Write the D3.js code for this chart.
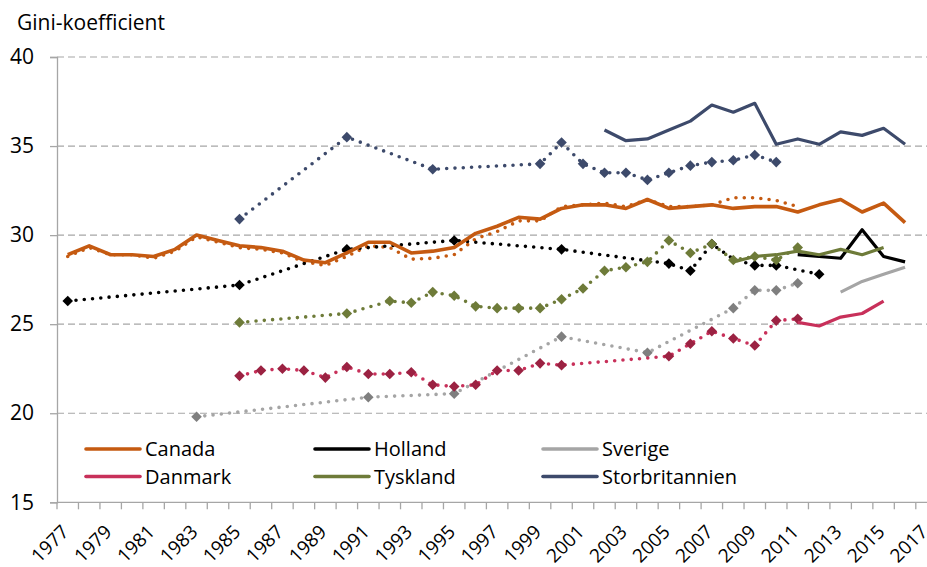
<!DOCTYPE html>
<html>
<head>
<meta charset="utf-8">
<script src="https://cdn.jsdelivr.net/npm/d3@7"></script>
<style>
  html, body { margin: 0; padding: 0; background: #fff; }
  svg { display: block; font-family: "Open Sans", "Noto Sans", sans-serif; }
</style>
</head>
<body>
<svg id="chart" width="927" height="567"></svg>
<script>
// ---- Data ----
const years = [1977,1978,1979,1980,1981,1982,1983,1984,1985,1986,1987,1988,1989,1990,1991,1992,1993,1994,1995,1996,1997,1998,1999,2000,2001,2002,2003,2004,2005,2006,2007,2008,2009,2010,2011,2012,2013,2014,2015,2016,2017];
const yearLabels = [1977,1979,1981,1983,1985,1987,1989,1991,1993,1995,1997,1999,2001,2003,2005,2007,2009,2011,2013,2015,2017];
const yTicks = [15,20,25,30,35,40];

// Canada
const canadaSolidYears = [1977,1978,1979,1980,1981,1982,1983,1984,1985,1986,1987,1988,1989,1990,1991,1992,1993,1994,1995,1996,1997,1998,1999,2000,2001,2002,2003,2004,2005,2006,2007,2008,2009,2010,2011,2012,2013,2014,2015,2016];
const canadaSolid = [28.9,29.4,28.9,28.9,28.8,29.2,30.0,29.7,29.4,29.3,29.1,28.6,28.45,29.0,29.6,29.6,29.0,29.1,29.3,30.1,30.5,31.0,30.9,31.5,31.7,31.7,31.5,32.0,31.5,31.6,31.7,31.5,31.6,31.6,31.3,31.7,32.0,31.3,31.8,30.7];
const canadaDotYears = [1977,1978,1979,1980,1981,1982,1983,1984,1985,1986,1987,1988,1989,1990,1991,1992,1993,1994,1995,1996,1997,1998,1999,2000,2001,2002,2003,2004,2005,2006,2007,2008,2009,2010,2011];
const canadaDot = [28.8,29.3,28.9,28.9,28.7,29.1,29.9,29.6,29.3,29.2,29.0,28.5,28.3,28.8,29.4,29.3,28.65,28.7,28.9,29.8,30.2,30.8,30.8,31.6,31.7,31.8,31.6,32.0,31.6,31.6,31.7,32.1,32.1,31.95,31.6];

// Holland
const hollandDotYears = [1977,1985,1990,1995,2000,2005,2006,2007,2008,2009,2010,2012];
const hollandDot = [26.3,27.2,29.2,29.7,29.2,28.4,28.0,29.5,28.65,28.3,28.3,27.8];
const hollandDotMarkers = [1977,1985,1990,1995,2000,2005,2006,2007,2009,2010,2012];
const hollandSolidYears = [2011,2012,2013,2014,2015,2016];
const hollandSolid = [28.9,28.8,28.7,30.3,28.8,28.5];

// Sverige
const sverigeDotYears = [1983,1991,1995,2000,2004,2008,2009,2010,2011];
const sverigeDot = [19.8,20.9,21.1,24.3,23.4,25.9,26.9,26.9,27.3];
const sverigeSolidYears = [2013,2014,2015,2016];
const sverigeSolid = [26.8,27.4,27.8,28.2];

// Danmark
const danmarkDotYears = [1985,1986,1987,1988,1989,1990,1991,1992,1993,1994,1995,1996,1997,1998,1999,2000,2005,2006,2007,2008,2009,2010,2011];
const danmarkDot = [22.1,22.4,22.5,22.4,22.0,22.6,22.2,22.2,22.3,21.6,21.5,21.6,22.4,22.4,22.8,22.7,23.2,23.9,24.6,24.2,23.8,25.2,25.3];
const danmarkSolidYears = [2011,2012,2013,2014,2015];
const danmarkSolid = [25.1,24.9,25.4,25.6,26.3];

// Tyskland
const tysklandDotYears = [1985,1990,1992,1993,1994,1995,1996,1997,1998,1999,2000,2001,2002,2003,2004,2005,2006,2007,2008,2009,2010,2011];
const tysklandDot = [25.1,25.6,26.3,26.2,26.8,26.6,26.0,25.9,25.9,25.9,26.4,27.0,28.0,28.2,28.5,29.7,29.0,29.5,28.6,28.8,28.6,29.3];
const tysklandSolidYears = [2008,2009,2010,2011,2012,2013,2014,2015];
const tysklandSolid = [28.5,28.8,28.9,29.1,28.9,29.2,28.9,29.3];

// Storbritannien
const ukDotYears = [1985,1990,1994,1999,2000,2001,2002,2003,2004,2005,2006,2007,2008,2009,2010];
const ukDot = [30.9,35.5,33.7,34.0,35.2,34.0,33.5,33.5,33.1,33.5,33.9,34.1,34.2,34.5,34.1];
const ukSolidYears = [2002,2003,2004,2005,2006,2007,2008,2009,2010,2011,2012,2013,2014,2015,2016];
const ukSolid = [35.9,35.3,35.4,35.9,36.4,37.3,36.9,37.4,35.1,35.4,35.1,35.8,35.6,36.0,35.1];

const legendNames = ["Canada","Holland","Sverige","Danmark","Tyskland","Storbritannien"];
const lineColors = ["#C55A11","#000000","#A5A5A5","#C8305A","#6E7B39","#3D4A6B"];
const dotColors = ["#C55A11","#000000","#A5A5A5","#C8305A","#6E7B39","#3D4A6B"];
const markerColors = [null,"#000000","#7F7F7F","#9B2242","#6E7B39","#3D4A6B"];

// ---- Layout ----
const svg = d3.select("#chart");
const plotLeft = 57, plotTop = 57, plotBottom = 502.3, band = 21.47;

const x = d3.scaleBand().domain(years).range([plotLeft, plotLeft + band * years.length]).paddingInner(0).paddingOuter(0);
const xc = yr => x(yr) + x.bandwidth() / 2;
const y = d3.scaleLinear().domain([15, 40]).range([plotBottom, plotTop]);

// gridlines
svg.append("g").selectAll("line").data(yTicks.filter(t => t > 15)).join("line")
  .attr("x1", plotLeft).attr("x2", 927).attr("y1", d => y(d)).attr("y2", d => y(d))
  .attr("stroke", "#A6A6A6").attr("stroke-width", 1.2).attr("stroke-dasharray", "7,4");

// y axis
const yAxis = svg.append("g").attr("transform", `translate(${plotLeft},0)`)
  .call(d3.axisLeft(y).tickValues(yTicks).tickSize(7).tickPadding(16).tickFormat(d3.format("d")));
yAxis.select(".domain").attr("stroke", "#A6A6A6").attr("stroke-width", 1.3);
yAxis.selectAll(".tick line").attr("stroke", "#A6A6A6").attr("stroke-width", 1.3);
yAxis.selectAll("text").attr("font-size", 21).attr("fill", "#000").attr("font-family", "Open Sans");

// x axis
const xAxisG = svg.append("g").attr("transform", `translate(0,${plotBottom})`);
xAxisG.append("line").attr("x1", plotLeft).attr("x2", plotLeft + band * years.length).attr("y1", 0).attr("y2", 0)
  .attr("stroke", "#A6A6A6").attr("stroke-width", 1.3);
xAxisG.selectAll("line.tk").data(years.concat([null])).join("line").attr("class", "tk")
  .attr("x1", (d, i) => plotLeft + band * i).attr("x2", (d, i) => plotLeft + band * i)
  .attr("y1", 0).attr("y2", 7).attr("stroke", "#A6A6A6").attr("stroke-width", 1.3);
xAxisG.selectAll("text").data(yearLabels).join("text")
  .attr("transform", d => `translate(${xc(d) - 2.4},${26}) rotate(-45)`)
  .attr("text-anchor", "end").attr("dy", "0.35em")
  .attr("font-size", 19).attr("fill", "#000")
  .text(d => d);

// title
svg.append("text").attr("x", 17).attr("y", 30).attr("font-size", 21).attr("fill", "#000").text("Gini-koefficient");

// ---- Series ----
const lineGen = d3.line().x(d => xc(d[0])).y(d => y(d[1]));
const zip = (ys, vs) => ys.map((yr, i) => [yr, vs[i]]);

const dotSeries = [
  {idx: 0, data: zip(canadaDotYears, canadaDot), markers: []},
  {idx: 2, data: zip(sverigeDotYears, sverigeDot), markers: sverigeDotYears},
  {idx: 3, data: zip(danmarkDotYears, danmarkDot), markers: danmarkDotYears},
  {idx: 1, data: zip(hollandDotYears, hollandDot), markers: hollandDotMarkers},
  {idx: 4, data: zip(tysklandDotYears, tysklandDot), markers: tysklandDotYears},
  {idx: 5, data: zip(ukDotYears, ukDot), markers: ukDotYears}
];
const solidSeries = [
  {idx: 0, data: zip(canadaSolidYears, canadaSolid)},
  {idx: 2, data: zip(sverigeSolidYears, sverigeSolid)},
  {idx: 3, data: zip(danmarkSolidYears, danmarkSolid)},
  {idx: 1, data: zip(hollandSolidYears, hollandSolid)},
  {idx: 4, data: zip(tysklandSolidYears, tysklandSolid)},
  {idx: 5, data: zip(ukSolidYears, ukSolid)}
];

const diamond = d3.symbol().type(d3.symbolSquare).size(56);

dotSeries.forEach(s => {
  const g = svg.append("g");
  g.append("path").attr("d", lineGen(s.data)).attr("fill", "none")
    .attr("stroke", dotColors[s.idx]).attr("stroke-width", 3.6)
    .attr("stroke-linecap", "round").attr("stroke-dasharray", "0,8.3");
  const mk = s.data.filter(d => s.markers.includes(d[0]));
  g.selectAll("path.mk").data(mk).join("path").attr("class", "mk")
    .attr("d", diamond)
    .attr("transform", d => `translate(${xc(d[0])},${y(d[1])}) rotate(45)`)
    .attr("fill", markerColors[s.idx]);
});

solidSeries.forEach(s => {
  svg.append("path").attr("d", lineGen(s.data)).attr("fill", "none")
    .attr("stroke", lineColors[s.idx]).attr("stroke-width", s.idx === 0 ? 3.6 : 3.2)
    .attr("stroke-linejoin", "round");
});

// ---- Legend ----
const legX = [86, 315, 543], legY = [449, 476.5];
const lg = svg.append("g");
legendNames.forEach((name, i) => {
  const col = i % 3, row = Math.floor(i / 3);
  lg.append("line").attr("x1", legX[col]).attr("x2", legX[col] + 54)
    .attr("y1", legY[row]).attr("y2", legY[row])
    .attr("stroke", lineColors[i]).attr("stroke-width", 3.6).attr("stroke-linecap", "round");
  lg.append("text").attr("x", legX[col] + 59).attr("y", legY[row]).attr("dy", "0.36em")
    .attr("font-size", 20).attr("fill", "#000").text(name);
});
</script>
</body>
</html>
